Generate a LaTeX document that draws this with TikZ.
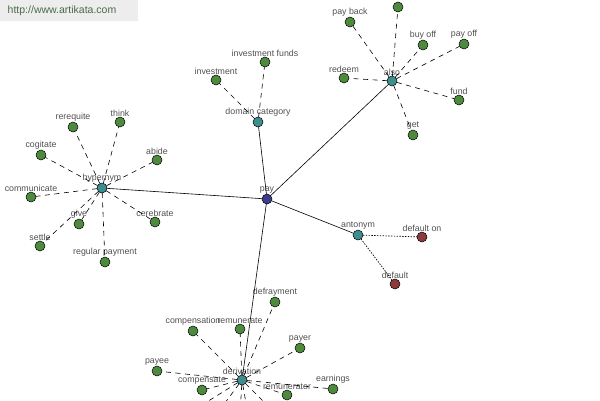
\documentclass[tikz,border=0pt]{standalone}
\usepackage{fontspec}
\setmainfont{Liberation Sans}
\definecolor{leafgreen}{HTML}{4E8A3E}
\definecolor{relteal}{HTML}{3E8E8E}
\definecolor{rootblue}{HTML}{3C3C8C}
\definecolor{antored}{HTML}{8E3A3A}
\definecolor{lblgray}{HTML}{505050}
\definecolor{urlgreen}{HTML}{4A6A4A}
\tikzset{
  wordnode/.style={circle,draw=black,line width=0.5pt,minimum size=10pt,inner sep=0pt,outer sep=0pt},
  leaf/.style={wordnode,fill=leafgreen},
  relnode/.style={wordnode,fill=relteal},
  rootnode/.style={wordnode,fill=rootblue},
  antonode/.style={wordnode,fill=antored},
  lbl/.style={text=lblgray,font=\fontsize{8.8}{10}\selectfont,inner sep=0.5pt,label distance=0pt},
  mainlink/.style={line width=0.6pt},
  dashlink/.style={line width=0.6pt,dash pattern=on 5pt off 4.5pt},
  dotlink/.style={line width=0.7pt,dash pattern=on 1.4pt off 1.4pt}
}
\begin{document}
\begin{tikzpicture}[x=1pt,y=-1pt]
\useasboundingbox (0,0) rectangle (600,400);
\clip (0,0) rectangle (600,400);
% Site banner
\fill[black!7] (0,0) rectangle (138,21);
\node[text=urlgreen,font=\fontsize{10.5}{12}\selectfont] (url) at (62,11) {http://www.artikata.com};
% Root
\node[rootnode,label={[lbl]above:pay}] (pay) at (267,199) {};
% Relations
\node[relnode,label={[lbl]above:domain category}] (domain) at (258,122) {};
\node[relnode,label={[lbl]above:also}] (also) at (392,81) {};
\node[relnode,label={[lbl]above:hypernym}] (hyper) at (102,188) {};
\node[relnode,label={[lbl]above:antonym}] (anto) at (358,235) {};
\node[relnode,label={[lbl]above:derivation}] (deriv) at (242,380) {};
% Domain category
\node[leaf,label={[lbl]above:investment}] (invest) at (216,80) {};
\node[leaf,label={[lbl]above:investment funds}] (investfunds) at (265,62) {};
% Also
\node[leaf,label={[lbl]above:pay back}] (payback) at (350,22) {};
\node[leaf] (alsotop) at (398,7) {};
\node[leaf,label={[lbl]above:buy off}] (buyoff) at (423,45) {};
\node[leaf,label={[lbl]above:pay off}] (payoff) at (464,44) {};
\node[leaf,label={[lbl]above:redeem}] (redeem) at (344,78) {};
\node[leaf,label={[lbl]above:fund}] (fund) at (459,100) {};
\node[leaf,label={[lbl]above:get}] (get) at (413,135) {};
% Hypernym
\node[leaf,label={[lbl]above:rerequite}] (rerequite) at (73,127) {};
\node[leaf,label={[lbl]above:think}] (think) at (120,122) {};
\node[leaf,label={[lbl]above:cogitate}] (cogitate) at (41,155) {};
\node[leaf,label={[lbl]above:abide}] (abide) at (157,160) {};
\node[leaf,label={[lbl]above:communicate}] (communicate) at (31,197) {};
\node[leaf,label={[lbl]above:give}] (give) at (79,224) {};
\node[leaf,label={[lbl]above:cerebrate}] (cerebrate) at (155,222) {};
\node[leaf,label={[lbl]above:settle}] (settle) at (40,246) {};
\node[leaf,label={[lbl]above:regular payment}] (regpay) at (105,262) {};
% Antonym
\node[antonode,label={[lbl]above:default on}] (defaulton) at (422,237) {};
\node[antonode,label={[lbl]above:default}] (default) at (395,284) {};
% Derivation
\node[leaf,label={[lbl]above:defrayment}] (defrayment) at (275,302) {};
\node[leaf,label={[lbl]above:compensation}] (compensation) at (193,331) {};
\node[leaf,label={[lbl]above:remunerate}] (remunerate) at (240,329) {};
\node[leaf,label={[lbl]above:payer}] (payer) at (300,348) {};
\node[leaf,label={[lbl]above:payee}] (payee) at (157,371) {};
\node[leaf,label={[lbl]above:compensate}] (compensate) at (202,390) {};
\node[leaf,label={[lbl]above:remunerator}] (remunerator) at (287,395) {};
\node[leaf,label={[lbl]above:earnings}] (earnings) at (333,389) {};
\coordinate (offa) at (186,415);
\coordinate (offb) at (216,415);
\coordinate (offc) at (240,415);
\coordinate (offd) at (248,415);
\coordinate (offe) at (277,415);
% Main links
\foreach \r in {domain,also,hyper,anto,deriv}
  \draw[mainlink] (pay) -- (\r);
% Leaf links
\foreach \l in {invest,investfunds}
  \draw[dashlink] (domain) -- (\l);
\foreach \l in {payback,alsotop,buyoff,payoff,redeem,fund,get}
  \draw[dashlink] (also) -- (\l);
\foreach \l in {rerequite,think,cogitate,abide,communicate,give,cerebrate,settle,regpay}
  \draw[dashlink] (hyper) -- (\l);
\foreach \l in {defrayment,compensation,remunerate,payer,payee,compensate,remunerator,earnings,offa,offb,offc,offd,offe}
  \draw[dashlink] (deriv) -- (\l);
\foreach \l in {defaulton,default}
  \draw[dotlink] (anto) -- (\l);
\end{tikzpicture}
\end{document}
